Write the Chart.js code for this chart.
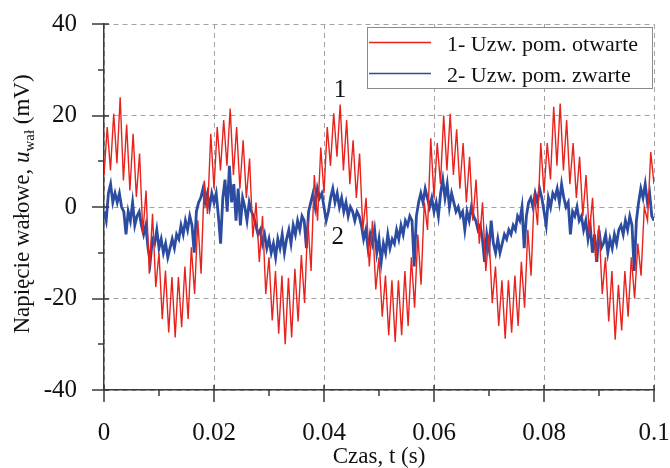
<!DOCTYPE html>
<html>
<head>
<meta charset="utf-8">
<script src="https://cdn.jsdelivr.net/npm/chart.js@4.4.1/dist/chart.umd.min.js"></script>
<style>
  html, body { margin: 0; padding: 0; background: #fff; }
  canvas { display: block; }
</style>
</head>
<body>
<canvas id="chart" width="670" height="468"></canvas>
<script>
// Sampling interval of each trace (s) - one 50 Hz period is 0.02 s
const redStep = 0.02 / 34;
const blueStep = 0.02 / 50;

// Trace 1 (open winding) (mV)
const redCycle1 = [7, 17.5, 8, 20.4, 9.5, 24, 5.8, 18, 3.6, 16, 2.2, 11.7, -5.8, 3.6, -14.6, -1.5, -17.5, -10, -24.5, -13.9, -27.4, -15.3, -28.5, -15.3, -26.3, -13, -24.5, -8.8, -19, -2.9, -14.6, 5.8, -1.5, 16];
const redCycle2 = [4, 17.5, 8, 19, 9, 21.5, 7, 17.5, 4, 14.6, 2, 10.6, -6.6, 1, -12, -2, -19, -11, -24.8, -14, -27.7, -15, -30, -15.5, -28.5, -13.5, -25, -10.5, -21, -3, -14, 7, -3, 13];
const redCycle3 = [3, 17.5, 9, 20.5, 11, 22.4, 8, 19, 5, 14.6, 2, 11.7, -5, 2, -13, -3, -18, -11, -24, -15, -28, -16, -29.5, -16, -28, -14, -26, -11, -22, -6, -17, 1, -5, 15];
const redCycle4 = [2, 14, 5, 20, 8, 20.4, 7, 17, 4, 14, 1, 11, -3, 6, -8, 1, -14, -6, -21, -13, -26, -16, -28.8, -16, -27.5, -15, -26, -12, -22, -5, -15, 3, -4, 14];
const redCycle5 = [3, 14, 6, 21.9, 9, 22.6, 8, 19, 5, 14, 2, 11, -2, 7, -6, 2, -12, -4, -19, -11, -25, -14, -29, -17, -27, -14, -24, -11, -20, -8, -15, 0, -3, 12];
const redEnd = [5];

// Trace 2 (shorted winding) (mV)
const blueCycle1 = [-1, -3, 3, 5, 1, 3, 1, 3, 0, -1, -6, -1, -3, 1, -4, -2, -1, -4, -6, -4, -9, -12, -7, -8, -5, -9, -7, -10, -8, -11, -9, -7, -9, -6, -7, -4, -6, -3, -5, -2, -4, -10, -1, 1, 2, 4, 1, 3, 0, 3];
const blueCycle2 = [1, 3, -2, -8, 2, 6, -1, 9, 1, 5, -3, 4, -4, 2, 0, -3, 1, -1, -2, -4, -6, -5, -8, -6, -9, -7, -10, -8, -11, -7, -9, -6, -10, -7, -5, -8, -4, -6, -3, -5, -2, -3, -9, -1, 1, 3, 0, 4, 2, 3];
const blueCycle3 = [0, -3, -1, 2, 4, 1, 3, 0, 2, -1, 1, -2, 0, -1, -3, -1, -2, -4, -7, -5, -9, -6, -8, -5, -10, -7, -12, -8, -10, -6, -9, -7, -8, -5, -7, -4, -6, -3, -4, -2, -3, -13, -2, 1, 3, 1, 4, 2, 0, 2];
const blueCycle4 = [-1, 1, -2, 3, 6, 2, 5, 0, 3, 1, -1, 0, -2, -1, -5, -1, -3, 0, -2, -3, -5, -4, -7, -12, -6, -9, -3, -8, -10, -7, -10, -8, -6, -7, -5, -6, -4, -5, -2, -3, 0, -9, -2, 1, 2, 0, 3, 1, 4, 2];
const blueCycle5 = [-1, -4, 2, 0, 3, 2, 4, 1, 5, 2, 0, 1, -6, -1, -2, 0, -3, -2, -5, -3, -7, -4, -10, -6, -12, -5, -9, -8, -6, -10, -7, -9, -6, -8, -5, -4, -6, -3, -5, -2, -4, -14, -3, 1, 4, 2, 5, 1, 3, -2];
const blueEnd = [-3];

const seriesNames = ['1- Uzw. pom. otwarte', '2- Uzw. pom. zwarte'];
const xMinorTicks = [0.01, 0.03, 0.05, 0.07, 0.09];
const yMinorTicks = [-30, -10, 10, 30];
// curve numbers written next to the traces (data coordinates)
const curveMarks = [
  { text: '1', x: 0.0429, y: 24 },
  { text: '2', x: 0.0425, y: -8 }
];

const redColor = '#e8231d';
const blueColor = '#2b4ca0';
const axisColor = '#3a3a3a';
const serif = '"Liberation Serif", "Times New Roman", serif';

function toPoints(values, step) {
  return values.map((v, i) => ({ x: i * step, y: v }));
}

const redValues = [].concat(redCycle1, redCycle2, redCycle3, redCycle4, redCycle5, redEnd);
const blueValues = [].concat(blueCycle1, blueCycle2, blueCycle3, blueCycle4, blueCycle5, blueEnd);

// Ticks, legend box, curve numbers and y title with subscript
const decorations = {
  id: 'decorations',
  afterDraw(chart) {
    const { ctx, chartArea: area, scales: { x, y } } = chart;
    ctx.save();

    // tick marks
    ctx.strokeStyle = axisColor;
    ctx.lineWidth = 1.5;
    ctx.beginPath();
    x.ticks.forEach(t => {
      const px = Math.round(x.getPixelForValue(t.value));
      ctx.moveTo(px, area.bottom - 5);
      ctx.lineTo(px, area.bottom + 12);
    });
    xMinorTicks.forEach(v => {
      const px = Math.round(x.getPixelForValue(v));
      ctx.moveTo(px, area.bottom);
      ctx.lineTo(px, area.bottom + 6);
    });
    y.ticks.forEach(t => {
      const py = Math.round(y.getPixelForValue(t.value));
      ctx.moveTo(area.left - 12, py);
      ctx.lineTo(area.left + 5, py);
    });
    yMinorTicks.forEach(v => {
      const py = Math.round(y.getPixelForValue(v));
      ctx.moveTo(area.left - 6, py);
      ctx.lineTo(area.left, py);
    });
    ctx.stroke();

    // legend box
    const box = { left: 367, top: 27, right: 652, bottom: 88 };
    ctx.fillStyle = '#fff';
    ctx.fillRect(box.left, box.top, box.right - box.left, box.bottom - box.top);
    ctx.strokeStyle = '#8a8a8a';
    ctx.lineWidth = 1;
    ctx.strokeRect(box.left + 0.5, box.top + 0.5, box.right - box.left, box.bottom - box.top);
    const colors = [redColor, blueColor];
    const rowY = [42.5, 73.5];
    ctx.font = '22px ' + serif;
    ctx.textAlign = 'left';
    ctx.textBaseline = 'alphabetic';
    seriesNames.forEach((name, i) => {
      ctx.strokeStyle = colors[i];
      ctx.lineWidth = 1.3;
      ctx.beginPath();
      ctx.moveTo(369, rowY[i]);
      ctx.lineTo(431, rowY[i]);
      ctx.stroke();
      ctx.fillStyle = '#111';
      ctx.fillText(name, 447, rowY[i] + 8.5);
    });

    // curve numbers
    ctx.font = '25px ' + serif;
    ctx.textAlign = 'center';
    curveMarks.forEach(m => {
      ctx.fillText(m.text, x.getPixelForValue(m.x), y.getPixelForValue(m.y));
    });

    // y axis title: Napięcie wałowe, u_wał (mV)
    const parts = [
      { t: 'Napięcie wałowe, ', f: '23px ' + serif, dy: 0 },
      { t: 'u', f: 'italic 23px ' + serif, dy: 0 },
      { t: 'wał', f: '15px ' + serif, dy: 5 },
      { t: ' (mV)', f: '23px ' + serif, dy: 0 }
    ];
    let total = 0;
    parts.forEach(p => { ctx.font = p.f; p.w = ctx.measureText(p.t).width; total += p.w; });
    ctx.translate(29, 204);
    ctx.rotate(-Math.PI / 2);
    ctx.textAlign = 'left';
    let cx = -total / 2;
    parts.forEach(p => {
      ctx.font = p.f;
      ctx.fillText(p.t, cx, p.dy);
      cx += p.w;
    });
    ctx.restore();
  }
};

const tickFont = { family: serif, size: 25 };

new Chart(document.getElementById('chart'), {
  type: 'line',
  data: {
    datasets: [
      {
        label: seriesNames[0],
        data: toPoints(redValues, redStep),
        borderColor: redColor,
        borderWidth: 1.4,
        pointRadius: 0,
        tension: 0
      },
      {
        label: seriesNames[1],
        data: toPoints(blueValues, blueStep),
        borderColor: blueColor,
        borderWidth: 2.8,
        pointRadius: 0,
        tension: 0
      }
    ]
  },
  options: {
    responsive: false,
    animation: false,
    devicePixelRatio: 1,
    layout: { padding: { top: 24, right: 16, bottom: 0, left: 0 } },
    plugins: {
      legend: { display: false },
      tooltip: { enabled: false }
    },
    scales: {
      x: {
        type: 'linear',
        min: 0,
        max: 0.1,
        afterFit: scale => {
          scale.height = 78;
          scale.paddingLeft = 0;
          scale.paddingRight = 0;
        },
        ticks: {
          stepSize: 0.02,
          color: '#111',
          font: tickFont,
          padding: 28,
          maxRotation: 0,
          autoSkip: false,
          callback: v => String(Number(v.toFixed(3)))
        },
        grid: { color: '#a3a3a3', lineWidth: 1, drawTicks: false },
        border: { display: true, color: axisColor, width: 1.5, dash: [5, 4] },
        title: {
          display: true,
          text: 'Czas, t (s)',
          color: '#111',
          font: { family: serif, size: 23, lineHeight: 0.75 },
          padding: { top: 0, bottom: 2 }
        }
      },
      y: {
        min: -40,
        max: 40,
        afterFit: scale => {
          scale.width = 104;
          scale.paddingTop = 0;
          scale.paddingBottom = 0;
        },
        ticks: {
          stepSize: 20,
          color: '#111',
          font: tickFont,
          padding: 27
        },
        grid: { color: '#a3a3a3', lineWidth: 1, drawTicks: false },
        border: { display: true, color: axisColor, width: 1.5, dash: [5, 4] }
      }
    }
  },
  plugins: [decorations]
});
</script>
</body>
</html>
